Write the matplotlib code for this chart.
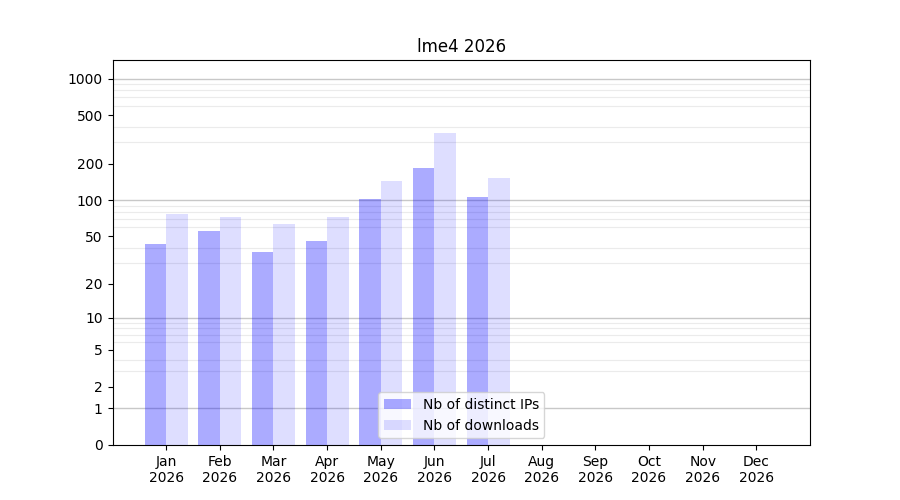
import numpy as np
import matplotlib
matplotlib.use("Agg")
import matplotlib.pyplot as plt
from matplotlib.ticker import FixedLocator, FixedFormatter

months = ["Jan", "Feb", "Mar", "Apr", "May", "Jun", "Jul", "Aug", "Sep", "Oct", "Nov", "Dec"]
year = "2026"
ips = [43, 56, 37, 46, 102, 185, 107]
downloads = [77, 73, 63, 73, 145, 360, 153]
ytick_values = [0, 1, 2, 5, 10, 20, 50, 100, 200, 500, 1000]
decades = [1, 10, 100, 1000]
minor_values = [m * d for d in [1, 10, 100] for m in range(1, 10)] + [1000]

fig, ax = plt.subplots(figsize=(9, 5), dpi=100)

ax.set_yscale("function", functions=(lambda x: np.log10(1 + np.clip(x, 0, None)),
                                      lambda y: 10 ** y - 1))

x = np.arange(len(months))
w = 0.4
ax.bar(x[:len(ips)] - w / 2, ips, width=w, color="blue", alpha=0.33,
       label="Nb of distinct IPs", zorder=3)
ax.bar(x[:len(downloads)] + w / 2, downloads, width=w, color="blue", alpha=0.13,
       label="Nb of downloads", zorder=3)

ax.yaxis.set_major_locator(FixedLocator(ytick_values))
ax.yaxis.set_major_formatter(FixedFormatter([str(v) for v in ytick_values]))
ax.yaxis.set_minor_locator(FixedLocator(minor_values))
ax.tick_params(axis="y", which="minor", length=0)
ax.grid(False)
ax.grid(True, which="minor", axis="y", color="#ebebeb", linewidth=0.8, zorder=1)
for d in decades:
    ax.axhline(d, color="#c8c8c8", linewidth=1.0, zorder=2)

ax.set_ylim(0, 1420)
ax.set_xlim(-1, 12)
ax.set_xticks(x)
ax.set_xticklabels([f"{m}\n{year}" for m in months])
ax.set_title("lme4 2026")
ax.legend(loc="lower center")

fig.savefig("out.png", dpi=100)
